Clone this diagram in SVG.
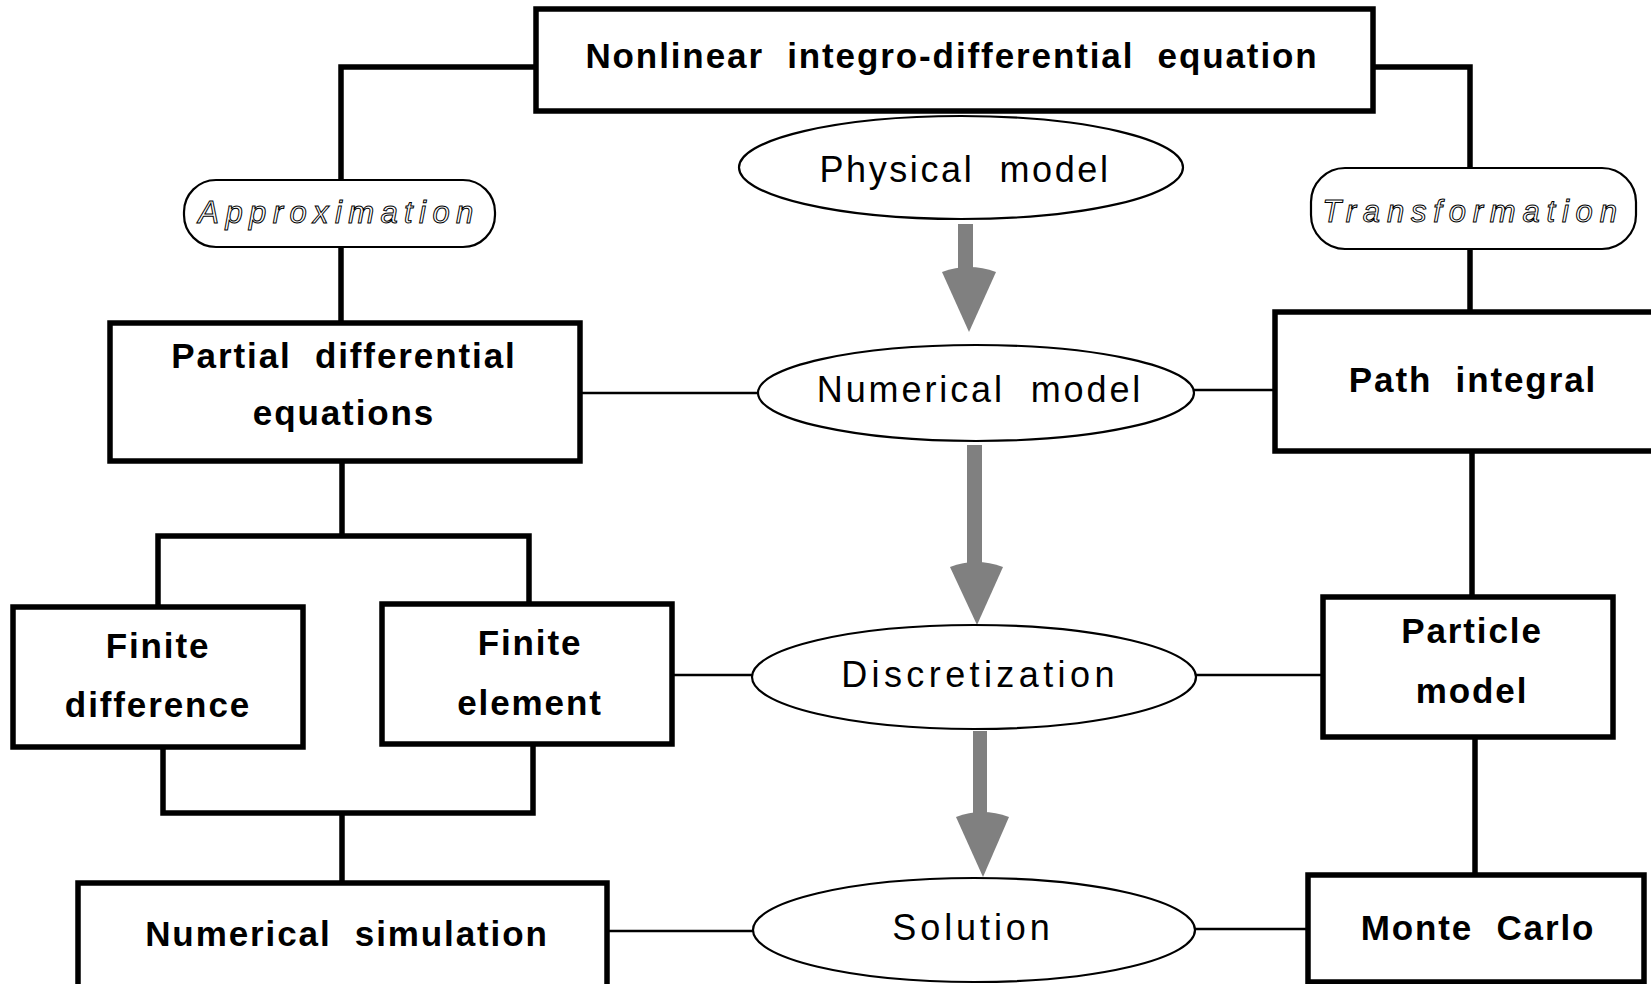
<svg xmlns="http://www.w3.org/2000/svg" width="1651" height="984" viewBox="0 0 1651 984" xml:space="preserve">
  <style>
    text { white-space: pre; }
    .box { fill: #fff; stroke: #000; stroke-width: 5.5; }
    .oval { fill: #fff; stroke: #000; stroke-width: 2.2; }
    .pill { fill: #fff; stroke: #000; stroke-width: 2.2; }
    .thick { fill: none; stroke: #000; stroke-width: 5.5; }
    .thin { fill: none; stroke: #000; stroke-width: 2.5; }
    .flow { fill: #808080; stroke: none; }
    .bold { font-family: "Liberation Sans", Arial, sans-serif; font-weight: bold; font-size: 35px; letter-spacing: 1.9px; text-anchor: middle; fill: #000; }
    .reg { font-family: "Liberation Sans", Arial, sans-serif; font-size: 36px; text-anchor: middle; fill: #000; }
    .hollow { font-family: "Liberation Sans", Arial, sans-serif; font-style: italic; font-size: 31px; text-anchor: middle; fill: #fff; stroke: #000; stroke-width: 1; }
  </style>
  <rect width="1651" height="984" fill="#fff"/>

  <!-- connectors -->
  <g id="connectors">
    <!-- tree lines -->
    <polyline class="thick" points="534,67 341,67 341,180"/>
    <polyline class="thick" points="1373,67 1470,67 1470,168"/>
    <line class="thick" x1="341" y1="247" x2="341" y2="322"/>
    <line class="thick" x1="1470" y1="249" x2="1470" y2="312"/>
    <line class="thick" x1="342" y1="461" x2="342" y2="536"/>
    <polyline class="thick" points="158,607 158,536 529,536 529,604"/>
    <polyline class="thick" points="163,747 163,813 533,813 533,744"/>
    <line class="thick" x1="342" y1="813" x2="342" y2="883"/>
    <line class="thick" x1="1472" y1="451" x2="1472" y2="597"/>
    <line class="thick" x1="1475" y1="737" x2="1475" y2="875"/>
    <!-- side links to the central column -->
    <line class="thin" x1="580" y1="393" x2="758" y2="393"/>
    <line class="thin" x1="1194" y1="390" x2="1275" y2="390"/>
    <line class="thin" x1="672" y1="675" x2="752" y2="675"/>
    <line class="thin" x1="1196" y1="675" x2="1323" y2="675"/>
    <line class="thin" x1="607" y1="931" x2="753" y2="931"/>
    <line class="thin" x1="1195" y1="929" x2="1308" y2="929"/>
    <!-- grey flow arrows -->
    <g id="flow-1">
      <rect class="flow" x="958" y="224" width="15" height="47"/>
      <path class="flow" d="M942,272 Q969,262 996,272 L969,332 Z"/>
    </g>
    <g id="flow-2">
      <rect class="flow" x="967" y="445" width="15" height="122"/>
      <path class="flow" d="M950,567 Q976,557 1003,567 L977,625 Z"/>
    </g>
    <g id="flow-3">
      <rect class="flow" x="973" y="731" width="14" height="89"/>
      <path class="flow" d="M956,817 Q982,807 1009,817 L983,877 Z"/>
    </g>
  </g>

  <g id="n-nonlinear">
    <rect class="box" x="536" y="9" width="837" height="102"/>
    <text class="bold" x="952" y="68">Nonlinear  integro-differential  equation</text>
  </g>

  <g id="n-approximation">
    <rect class="pill" x="184" y="180" width="311" height="67" rx="32" ry="32"/>
    <text class="hollow" x="339" y="223" style="letter-spacing:6.4px">Approximation</text>
  </g>

  <g id="n-transformation">
    <rect class="pill" x="1311" y="168" width="325" height="81" rx="34" ry="34"/>
    <text class="hollow" x="1473" y="222" style="letter-spacing:6.8px">Transformation</text>
  </g>

  <g id="n-physical">
    <ellipse class="oval" cx="961" cy="167.5" rx="222" ry="51.5"/>
    <text class="reg" x="965" y="182" style="letter-spacing:2.6px">Physical  model</text>
  </g>

  <g id="n-numerical-model">
    <ellipse class="oval" cx="976" cy="393" rx="218" ry="48"/>
    <text class="reg" x="980" y="402" style="letter-spacing:2.9px">Numerical  model</text>
  </g>

  <g id="n-discretization">
    <ellipse class="oval" cx="974" cy="677" rx="222" ry="52"/>
    <text class="reg" x="980" y="687" style="letter-spacing:4.4px">Discretization</text>
  </g>

  <g id="n-solution">
    <ellipse class="oval" cx="974" cy="930" rx="221" ry="52"/>
    <text class="reg" x="973" y="940" style="letter-spacing:3.9px">Solution</text>
  </g>

  <g id="n-pde">
    <rect class="box" x="110" y="323" width="470" height="138"/>
    <text class="bold" x="344" y="368">Partial  differential</text>
    <text class="bold" x="344" y="425">equations</text>
  </g>

  <g id="n-finite-difference">
    <rect class="box" x="13" y="607" width="290" height="140"/>
    <text class="bold" x="158" y="658">Finite</text>
    <text class="bold" x="158" y="717">difference</text>
  </g>

  <g id="n-finite-element">
    <rect class="box" x="382" y="604" width="290" height="140"/>
    <text class="bold" x="530" y="655">Finite</text>
    <text class="bold" x="530" y="715">element</text>
  </g>

  <g id="n-numerical-simulation">
    <rect class="box" x="78" y="883" width="529" height="120"/>
    <text class="bold" x="347" y="946">Numerical  simulation</text>
  </g>

  <g id="n-path-integral">
    <rect class="box" x="1275" y="312" width="390" height="139"/>
    <text class="bold" x="1473" y="392">Path  integral</text>
  </g>

  <g id="n-particle">
    <rect class="box" x="1323" y="597" width="290" height="140"/>
    <text class="bold" x="1472" y="643">Particle</text>
    <text class="bold" x="1472" y="703">model</text>
  </g>

  <g id="n-monte-carlo">
    <rect class="box" x="1308" y="875" width="336" height="107"/>
    <text class="bold" x="1478" y="940">Monte  Carlo</text>
  </g>
</svg>
